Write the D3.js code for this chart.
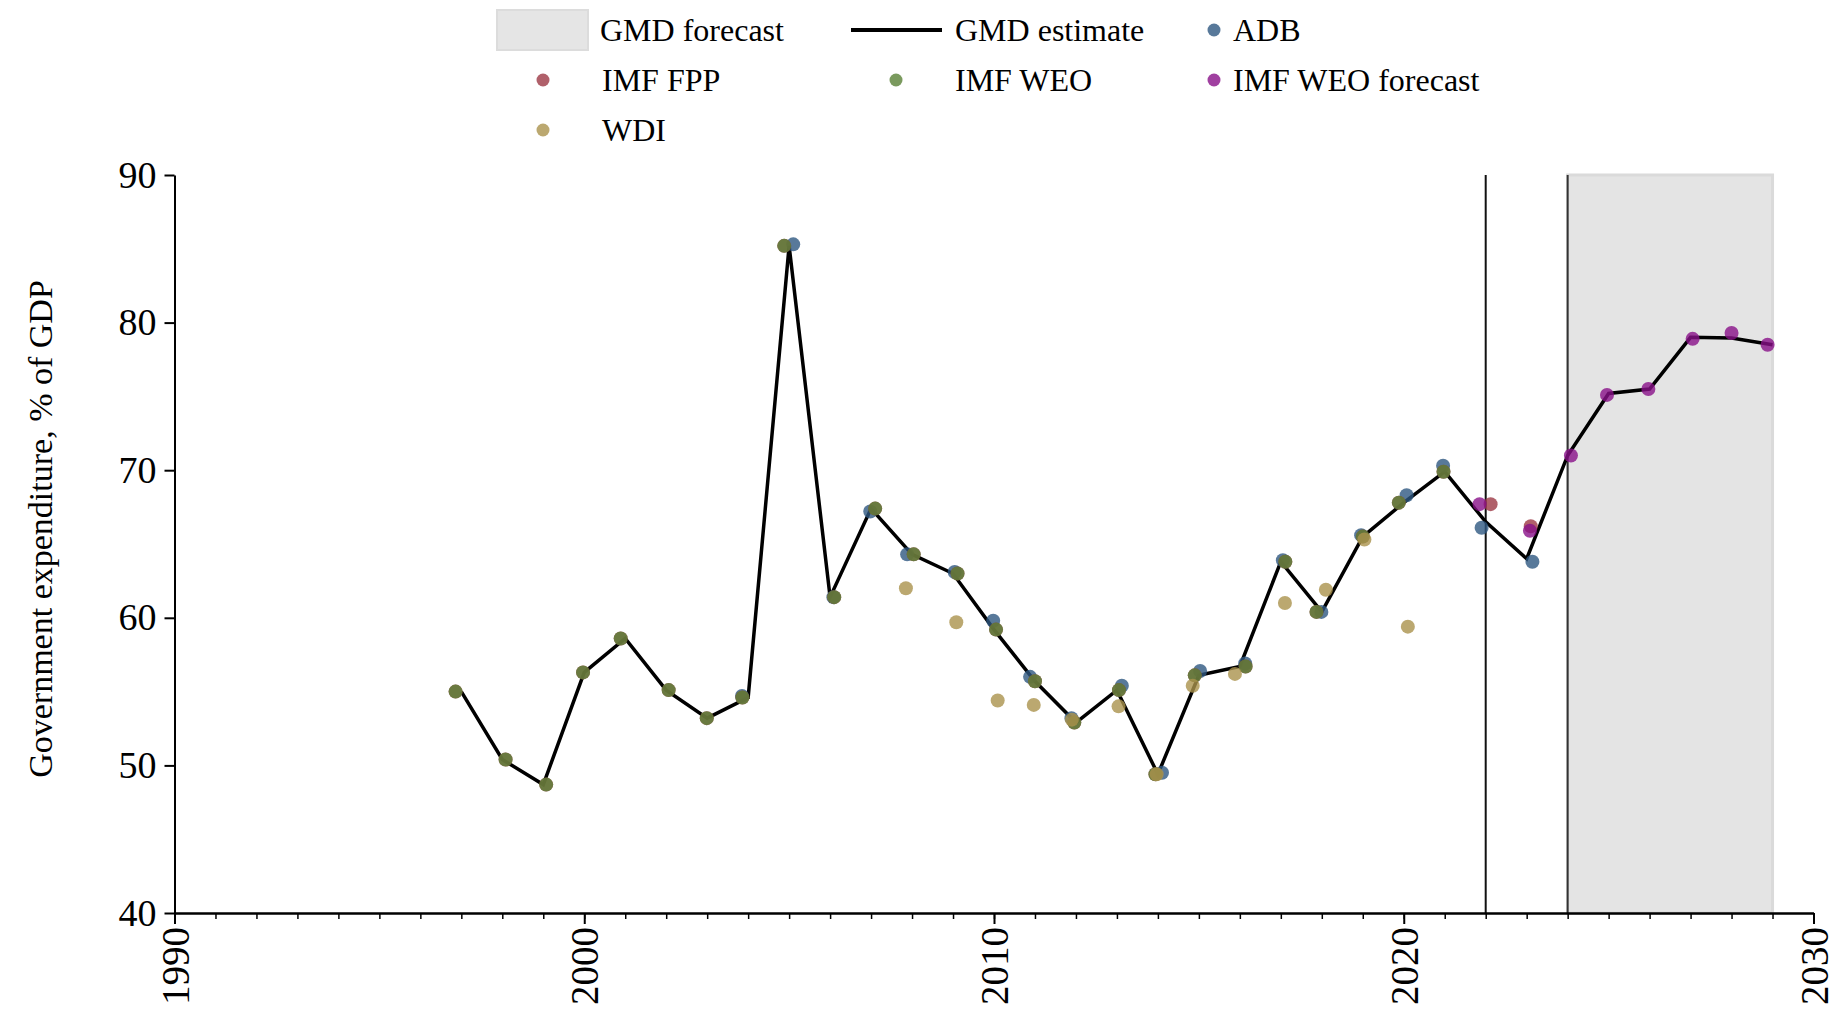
<!DOCTYPE html>
<html>
<head>
<meta charset="utf-8">
<script src="https://cdn.jsdelivr.net/npm/d3@7"></script>
<style>
  html, body { margin: 0; padding: 0; background: #fff; }
  svg { display: block; }
  text { font-family: "Liberation Serif", "Times New Roman", serif; fill: #000; }
</style>
</head>
<body>
<svg id="chart" width="1840" height="1017"></svg>
<script>
// ---------- DATA ----------
// GMD estimate line (1997..2029)
const gmdYears = d3.range(1997, 2030);
const gmdValues = [55.0, 50.4, 48.7, 56.3, 58.6, 55.1, 53.2, 54.6, 85.2, 61.4,
                   67.4, 64.3, 63.0, 59.2, 55.7, 52.9, 55.1, 49.4, 56.1, 56.7,
                   63.8, 60.4, 65.5, 67.8, 69.9, 66.5, 64.0, 71.0, 75.2, 75.5,
                   79.0, 78.95, 78.5];

// ADB
const adbYears  = d3.range(2004, 2024);
const adbValues = [54.7, 85.3, 61.4, 67.2, 64.3, 63.1, 59.8, 56.0, 53.2, 55.4,
                   49.5, 56.4, 56.9, 63.9, 60.4, 65.6, 68.3, 70.3, 66.1, 63.8];
const adbShift  = [-0.15, 0.10, 0.08, -0.02, -0.12, 0.04, -0.02, -0.12, -0.11, 0.12,
                   0.10, 0.03, 0.13, 0.05, -0.01, -0.04, 0.07, -0.04, -0.10, 0.14];

// IMF FPP
const fppYears  = d3.range(1997, 2024);
const fppValues = [55.0, 50.4, 48.7, 56.3, 58.6, 55.1, 53.2, 54.6, 85.2, 61.4,
                   67.4, 64.3, 63.0, 59.2, 55.7, 52.9, 55.1, 49.4, 56.1, 56.7,
                   63.8, 60.4, 65.5, 67.8, 69.9, 67.7, 66.2];
const fppShift  = [-0.14, 0.08, 0.07, -0.03, -0.11, 0.06, -0.01, -0.14, -0.12, 0.10,
                   0.10, 0.04, 0.11, 0.05, 0.00, -0.04, 0.05, -0.06, -0.10, 0.14,
                   0.11, -0.13, 0.00, -0.12, -0.03, 0.12, 0.10];

// IMF WEO
const weoYears  = d3.range(1997, 2022);
const weoValues = [55.0, 50.4, 48.7, 56.3, 58.6, 55.1, 53.2, 54.6, 85.2, 61.4,
                   67.4, 64.3, 63.0, 59.2, 55.7, 52.9, 55.1, 49.4, 56.1, 56.7,
                   63.8, 60.4, 65.5, 67.8, 69.9];
const weoShift  = [-0.14, 0.08, 0.07, -0.03, -0.11, 0.06, -0.01, -0.14, -0.12, 0.10,
                   0.10, 0.04, 0.11, 0.05, 0.00, -0.04, 0.05, -0.06, -0.10, 0.14,
                   0.11, -0.13, 0.00, -0.12, -0.03];

// IMF WEO forecast
const weofYears  = d3.range(2022, 2030);
const weofValues = [67.7, 65.9, 71.0, 75.1, 75.5, 78.9, 79.3, 78.5];
const weofShift  = [-0.15, 0.08, 0.08, -0.04, -0.03, 0.05, 0.00, -0.12];

// WDI
const wdiYears  = d3.range(2008, 2021);
const wdiValues = [62.0, 59.7, 54.4, 54.1, 53.1, 54.0, 49.4, 55.4, 56.2, 61.0, 61.9, 65.3, 59.4];
const wdiShift  = [-0.15, 0.08, 0.09, -0.03, -0.10, 0.04, -0.03, -0.15, -0.12, 0.10, 0.10, 0.04, 0.10];

const forecastStart = 2024, forecastEnd = 2029;
const cutoffYear = 2022;

const yTicks = [40, 50, 60, 70, 80, 90];
const xMajorTicks = [1990, 2000, 2010, 2020, 2030];
const xMinorTicks = d3.range(1990, 2031);

const yLabel = "Government expenditure, % of GDP";

const colors = {
  adb: "#2e5881",
  fpp: "#9c3845",
  weo: "#598136",
  weof: "#881088",
  wdi: "#aa924c"
};

// ---------- CHART ----------
const svg = d3.select("#chart");
const x = d3.scaleLinear().domain([1990, 2030]).range([174.5, 1813.5]);
const y = d3.scaleLinear().domain([40, 90]).range([913, 175]);

// forecast shade
svg.append("rect")
  .attr("x", x(forecastStart)).attr("y", y(90))
  .attr("width", x(forecastEnd) - x(forecastStart))
  .attr("height", y(40) - y(90))
  .attr("fill", "#e4e4e4").attr("stroke", "#dadada").attr("stroke-width", 3);
svg.append("line")
  .attr("x1", x(forecastStart)).attr("x2", x(forecastStart))
  .attr("y1", y(90)).attr("y2", y(40))
  .attr("stroke", "#333").attr("stroke-width", 2);

// cutoff line
svg.append("line")
  .attr("x1", x(cutoffYear)).attr("x2", x(cutoffYear))
  .attr("y1", y(90)).attr("y2", y(40))
  .attr("stroke", "#111").attr("stroke-width", 2);

// axes
const yAxis = d3.axisLeft(y).tickValues(yTicks).tickSize(10).tickSizeOuter(0).tickPadding(8);
const gy = svg.append("g").attr("transform", `translate(${x(1990)},0)`).call(yAxis);
gy.select(".domain").attr("stroke", "#000").attr("stroke-width", 2);
gy.selectAll(".tick line").attr("stroke", "#000").attr("stroke-width", 2);
gy.selectAll(".tick text").style("font-family", "'Liberation Serif', serif").style("font-size", "38px");

const xAxisMinor = d3.axisBottom(x).tickValues(xMinorTicks).tickSize(6).tickSizeOuter(0).tickFormat("");
const gxm = svg.append("g").attr("transform", `translate(0,${y(40)})`).call(xAxisMinor);
gxm.select(".domain").attr("stroke", "#000").attr("stroke-width", 2.5);
gxm.selectAll(".tick line").attr("stroke", "#000").attr("stroke-width", 1.5);

const xAxis = d3.axisBottom(x).tickValues(xMajorTicks).tickSize(11).tickSizeOuter(0).tickFormat(d3.format("d"));
const gx = svg.append("g").attr("transform", `translate(0,${y(40)})`).call(xAxis);
gx.select(".domain").remove();
gx.selectAll(".tick line").attr("stroke", "#000").attr("stroke-width", 2);
gx.selectAll(".tick text")
  .style("font-family", "'Liberation Serif', serif").style("font-size", "39px")
  .attr("text-anchor", "end")
  .attr("transform", "rotate(-90)")
  .attr("x", -14).attr("y", 0).attr("dy", "0.35em");

// y label
svg.append("text")
  .attr("transform", `translate(40,${(y(40)+y(90))/2 - 15}) rotate(-90)`)
  .attr("text-anchor", "middle").attr("dy", "0.35em")
  .style("font-size", "34px")
  .text(yLabel);

// GMD line
const gmdData = gmdYears.map((yr, i) => [yr, gmdValues[i]]);
svg.append("path")
  .datum(gmdData)
  .attr("fill", "none").attr("stroke", "#000").attr("stroke-width", 3.5)
  .attr("stroke-linejoin", "miter")
  .attr("d", d3.line().x(d => x(d[0])).y(d => y(d[1])));

function dots(yrs, vals, shift, color) {
  const data = yrs.map((yr, i) => ({x: yr + shift[i], v: vals[i]}));
  svg.append("g").selectAll("circle").data(data).join("circle")
    .attr("cx", d => x(d.x)).attr("cy", d => y(d.v)).attr("r", 7)
    .attr("fill", color).attr("fill-opacity", 0.8);
}
dots(adbYears, adbValues, adbShift, colors.adb);
dots(fppYears, fppValues, fppShift, colors.fpp);
dots(weoYears, weoValues, weoShift, colors.weo);
dots(weofYears, weofValues, weofShift, colors.weof);
dots(wdiYears, wdiValues, wdiShift, colors.wdi);

// legend
const lg = svg.append("g");
const fs = "32px";
lg.append("rect").attr("x", 497).attr("y", 10).attr("width", 91).attr("height", 40)
  .attr("fill", "#e5e5e5").attr("stroke", "#dcdcdc").attr("stroke-width", 2);
lg.append("line").attr("x1", 851).attr("x2", 942).attr("y1", 30).attr("y2", 30)
  .attr("stroke", "#000").attr("stroke-width", 4);
const legendDots = [
  {cx: 1214, cy: 30, c: colors.adb},
  {cx: 543, cy: 80, c: colors.fpp},
  {cx: 896, cy: 80, c: colors.weo},
  {cx: 1214, cy: 80, c: colors.weof},
  {cx: 543, cy: 130, c: colors.wdi}
];
lg.selectAll("circle").data(legendDots).join("circle")
  .attr("cx", d => d.cx).attr("cy", d => d.cy).attr("r", 6.5)
  .attr("fill", d => d.c).attr("fill-opacity", 0.8);
const legendTexts = [
  {x: 600, y: 30, t: "GMD forecast"},
  {x: 955, y: 30, t: "GMD estimate"},
  {x: 1233, y: 30, t: "ADB"},
  {x: 602, y: 80, t: "IMF FPP"},
  {x: 955, y: 80, t: "IMF WEO"},
  {x: 1233, y: 80, t: "IMF WEO forecast"},
  {x: 602, y: 130, t: "WDI"}
];
lg.selectAll("text").data(legendTexts).join("text")
  .attr("x", d => d.x).attr("y", d => d.y).attr("dy", "0.35em")
  .style("font-size", fs).text(d => d.t);
</script>
</body>
</html>
